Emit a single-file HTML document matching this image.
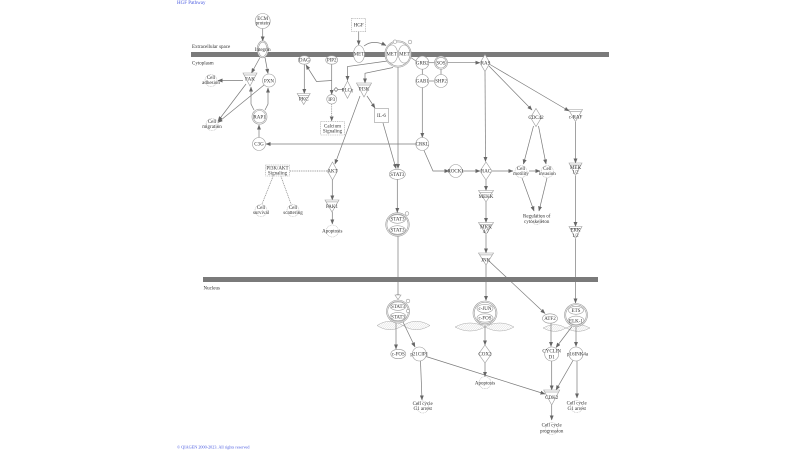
<!DOCTYPE html>
<html><head><meta charset="utf-8"><style>html,body{margin:0;padding:0;background:#fff;}svg{display:block}</style></head><body>
<svg width="800" height="450" viewBox="0 0 800 450" xmlns="http://www.w3.org/2000/svg" font-family="Liberation Serif, serif" font-size="5">
<defs>
<marker id="a" markerWidth="5" markerHeight="4" refX="4.6" refY="2" orient="auto" markerUnits="userSpaceOnUse"><path d="M0,0L5,2L0,4z" fill="#666"/></marker>
<pattern id="h" width="1.6" height="1.6" patternUnits="userSpaceOnUse" patternTransform="rotate(40)"><line x1="0" y1="0" x2="0" y2="1.6" stroke="#bbb" stroke-width="0.5"/></pattern>
</defs>
<rect width="800" height="450" fill="#fff"/>
<text x="177" y="4" fill="#4a5be0">HGF Pathway</text>
<text x="177" y="448.6" fill="#4a5be0" font-size="4.2">© QIAGEN 2000-2023. All rights reserved</text>

<!-- membranes -->
<rect x="191" y="52" width="418" height="5" fill="#7a7a7a"/>
<rect x="203" y="277" width="395" height="5" fill="#7a7a7a"/>
<g fill="#333">
<text x="192" y="48">Extracellular space</text>
<text x="192" y="64.5">Cytoplasm</text>
<text x="203.5" y="289.5">Nucleus</text>
</g>

<!-- DNA helices -->
<g stroke="#aaa" stroke-width="0.5" fill="url(#h)">
<path d="M377,325.5 Q390,317 403,325.5 Q390,334 377,325.5Z"/>
<path d="M403,325.5 Q416,317 430,325.5 Q416,334 403,325.5Z"/>
<path d="M455,327 Q470,319 485,327 Q470,335 455,327Z"/>
<path d="M485,327 Q500,319 514,327 Q500,335 485,327Z"/>
<path d="M543,328 Q555,321 566,328 Q555,335 543,328Z"/>
<path d="M566,328 Q578,321 590,328 Q578,335 566,328Z"/>
</g>

<!-- edges -->
<g stroke="#7a7a7a" stroke-width="0.7" fill="none" marker-end="url(#a)">
<path d="M262.7,28.5L262.7,41"/>
<path d="M358.7,31.7L358.7,45"/>
<path d="M364,46Q373,39 386,45.5"/>
<path d="M260,57.5L251.5,73"/>
<path d="M265,57.5L268,73.5"/>
<path d="M243,80.5L218,80.5"/>
<path d="M246,84L218,121"/>
<path d="M264,85L218,122.5"/>
<path d="M254,110L251,104L251,87"/>
<path d="M265,110L268,104L268,88"/>
<path d="M259,137.5L259,125"/>
<path d="M415.8,144L266,144"/>
<path d="M304.3,64L304.3,93.5"/>
<path d="M331.7,64L331.7,94.5"/>
<path d="M331.7,80.5L316.5,81.5L306,65"/>
<path d="M331.7,104L331.7,121" stroke-dasharray="1,0.8"/>
<path d="M367,96L375,108"/>
<path d="M360,96L335,164"/>
<path d="M383,123L396,168.5"/>
<path d="M398,67L398,168.5"/>
<path d="M387.5,61L347.5,66.5L347.5,80.5"/>
<path d="M393,67.5L365,73.3L365,83"/>
<path d="M332.3,180L332.3,200"/>
<path d="M332.3,212L332.3,224"/>
<path d="M397.3,179.5L397.3,212.5"/>
<path d="M398,236L398,299"/>
<path d="M447.5,62.7L480,62.7"/>
<path d="M422.3,87.5L422.3,137.5"/>
<path d="M485,71.5L485.5,161.5"/>
<path d="M489,66L532,110"/>
<path d="M490,64.5L569,111"/>
<path d="M424,150.5L433,171L449,171"/>
<path d="M462.2,171L480,171"/>
<path d="M492,171L513,171"/>
<path d="M529,171L540,171"/>
<path d="M533.5,126L523.5,164"/>
<path d="M538.5,126L546,164"/>
<path d="M522,178L534,211"/>
<path d="M547,178L539,211"/>
<path d="M486,180L486,190.5"/>
<path d="M486,202L486,222.5"/>
<path d="M486,235L486,253"/>
<path d="M486,265L486,300.5"/>
<path d="M489,261L545,313.5"/>
<path d="M575.5,122L575.5,163"/>
<path d="M575.5,176L575.5,226.5"/>
<path d="M575.5,239L575.5,303"/>
<path d="M396,322.5L396,349"/>
<path d="M403,322L415,347"/>
<path d="M420.5,361L422,400"/>
<path d="M426,356.5L545,394"/>
<path d="M485,325.5L485,345"/>
<path d="M485,363L485,376.5"/>
<path d="M551,323L551,346.5"/>
<path d="M572,326.5L556,347.5"/>
<path d="M576,327L576,346.5"/>
<path d="M551.7,361L551.7,390"/>
<path d="M573,360.5L556,390"/>
<path d="M577,361L577,398"/>
<path d="M551.7,405L551.7,420"/>
</g>
<g stroke="#7a7a7a" stroke-width="0.7" fill="none">
<path d="M410,57L416,61"/>
<path d="M428.8,62.7L434.5,62.7"/>
<path d="M422.3,69.2L422.3,74.5"/>
<path d="M428.8,81L434.5,81"/>
<path d="M441,69.2L441,74.5"/>
<path d="M343,89.5L334,89.5"/>
<path d="M327,171L289.5,171" stroke-dasharray="1,0.8"/>
<path d="M273,176.5L262,204" stroke-dasharray="1,0.8"/>
<path d="M281,176.5L291,204" stroke-dasharray="1,0.8"/>
<path d="M336,87.5L338,89.5L336,91.5L334,89.5Z" fill="#fff"/>
</g>

<!-- nodes -->
<g stroke="#9a9a9a" stroke-width="0.6" fill="#fff">
<!-- circles -->
<circle cx="262.7" cy="21" r="7.5"/>
<circle cx="422.3" cy="62.7" r="6.5"/>
<circle cx="441" cy="62.7" r="6.5"/><circle cx="441" cy="62.7" r="5.3"/>
<circle cx="422.3" cy="81" r="6.5"/>
<circle cx="441" cy="81" r="6.5"/>
<circle cx="422.3" cy="144" r="6.5"/>
<circle cx="259" cy="144" r="6.5"/>
<circle cx="269" cy="80.5" r="6.5"/>
<circle cx="259.5" cy="116.7" r="7.5"/><circle cx="259.5" cy="116.7" r="6.2"/>
<circle cx="455.7" cy="171" r="6.5"/>
<circle cx="551.7" cy="354" r="7"/>
<circle cx="576" cy="354" r="7"/>
<circle cx="419.3" cy="354" r="7"/>
<!-- ellipses -->
<ellipse cx="262.7" cy="49.3" rx="5.5" ry="8.5"/><ellipse cx="262.7" cy="49.3" rx="4.3" ry="7.2"/>
<ellipse cx="359" cy="54" rx="5.5" ry="8.5"/>
<ellipse cx="304.3" cy="60" rx="6" ry="4.2"/>
<ellipse cx="331.7" cy="60" rx="6" ry="4.2"/>
<ellipse cx="331.7" cy="99.3" rx="5" ry="4.7"/>
<ellipse cx="397.3" cy="174.3" rx="8" ry="5"/>
<ellipse cx="398.3" cy="354" rx="7.5" ry="4.7"/>
<ellipse cx="550" cy="318.5" rx="7.5" ry="4.7"/>
<!-- rects -->
<rect x="351.7" y="18.3" width="14" height="13.4" stroke-dasharray="1,0.8"/>
<rect x="374.5" y="108.5" width="14" height="14"/>
<rect x="320.7" y="121.7" width="23.6" height="13.3" stroke-dasharray="1,0.8"/>
<rect x="265.7" y="165" width="23.6" height="11" stroke-dasharray="1,0.8"/>
<!-- triangles -->
<path d="M243,73H257L250,86Z"/><path d="M244.2,75H255.8"/>
<path d="M297.2,93.5H310.2L303.7,104.5Z"/><path d="M298.2,95.3H309.2"/>
<path d="M356.5,83H371.5L364,97Z"/><path d="M357.6,85H370.4"/>
<path d="M568.5,109.5H582.5L575.5,121.5Z"/><path d="M569.6,111.3H581.4"/>
<path d="M569,163H582L575.5,175.5Z"/><path d="M570.1,165H580.9"/>
<path d="M569,226.5H582L575.5,238.5Z"/><path d="M570.1,228.5H580.9"/>
<path d="M478.5,190.5H493.5L486,202Z"/><path d="M479.7,192.4H492.3"/>
<path d="M478.5,222.5H493.5L486,234.5Z"/><path d="M479.7,224.4H492.3"/>
<path d="M478.5,253H493.5L486,265Z"/><path d="M479.7,254.9H492.3"/>
<path d="M325,200H339L332,212Z"/><path d="M326.2,201.9H337.8"/>
<path d="M543.7,390H559.7L551.7,405Z"/><path d="M545,392H558.4"/>
<!-- diamonds -->
<path d="M347.5,81L352,89.7L347.5,98.4L343,89.7Z"/>
<path d="M485,54.5L490,63L485,71.5L480,63Z"/>
<path d="M536,108.5L541.5,117.5L536,126.5L530.5,117.5Z"/>
<path d="M332.5,162L337.5,171L332.5,180L327.5,171Z"/>
<path d="M486,162L492,171L486,180L480,171Z"/>
<path d="M485,345L491.5,354L485,363L478.5,354Z"/>
<!-- complexes -->
<circle cx="398" cy="54" r="13.2"/><circle cx="398" cy="54" r="12"/>
<ellipse cx="391.8" cy="54" rx="5.8" ry="9"/><ellipse cx="404.2" cy="54" rx="5.8" ry="9"/>
<circle cx="395" cy="41.7" r="1.8"/><circle cx="410" cy="42" r="1.8"/>
<circle cx="397.5" cy="224.5" r="11.8"/><circle cx="397.5" cy="224.5" r="10.6"/>
<ellipse cx="397.5" cy="219" rx="8" ry="4.3"/><ellipse cx="397.5" cy="230" rx="8" ry="4.3"/>
<circle cx="407" cy="213.5" r="1.8"/>
<circle cx="398" cy="311.5" r="11.5"/><circle cx="398" cy="311.5" r="10.3"/>
<ellipse cx="398" cy="306.2" rx="8" ry="4.2"/><ellipse cx="398" cy="316.6" rx="8" ry="4.2"/>
<circle cx="408" cy="301" r="1.8"/><circle cx="408" cy="311" r="1.6"/>
<path d="M395,295H401L398,299.5Z"/>
<circle cx="485" cy="313" r="12"/><circle cx="485" cy="313" r="10.8"/>
<ellipse cx="485" cy="308.5" rx="8" ry="4.2"/><ellipse cx="485" cy="318" rx="8" ry="4.2"/>
<circle cx="576" cy="315" r="11.5"/><circle cx="576" cy="315" r="10.3"/>
<ellipse cx="576" cy="310.3" rx="7.5" ry="4"/><ellipse cx="576" cy="320.3" rx="8" ry="4.2"/>
</g>
<!-- clouds (functions) -->
<g stroke="#b0b0b0" stroke-width="0.55" fill="#fff" stroke-dasharray="0.9,0.7">
<circle cx="211" cy="80.5" r="6"/>
<circle cx="212" cy="124.5" r="6"/>
<circle cx="261" cy="210.5" r="6"/>
<circle cx="293" cy="210.5" r="6"/>
<circle cx="332.3" cy="231" r="6"/>
<circle cx="521" cy="171.5" r="6"/>
<circle cx="547.3" cy="171.5" r="6"/>
<circle cx="536.7" cy="219.5" r="5"/>
<circle cx="422.7" cy="407" r="6"/>
<circle cx="485" cy="382.7" r="6"/>
<circle cx="576.7" cy="406.5" r="6"/>
<circle cx="551.7" cy="428.5" r="6"/>
</g>

<!-- labels -->
<g fill="#333" text-anchor="middle">
<text x="262.7" y="19.8">ECM</text><text x="262.7" y="24.7">protein</text>
<text x="262.7" y="51">Integrin</text>
<text x="358.7" y="26.7">HGF</text>
<text x="359" y="55.7">MET</text>
<text x="391.6" y="55.7">MET</text><text x="404.4" y="55.7">MET</text>
<text x="211" y="79">Cell</text><text x="211" y="84">adhesion</text>
<text x="250" y="80.5">FAK</text>
<text x="269" y="82.3">PXN</text>
<text x="304.3" y="61.7">DAG</text>
<text x="331.7" y="61.7">PIP2</text>
<text x="347.5" y="91.3">PLCγ</text>
<text x="364" y="90.5">PI3K</text>
<text x="303.7" y="100.5">PKC</text>
<text x="331.7" y="101">IP3</text>
<text x="381.5" y="117">IL-6</text>
<text x="332.5" y="127.3">Calcium</text><text x="332.5" y="132.6">Signaling</text>
<text x="212" y="123">Cell</text><text x="212" y="128">migration</text>
<text x="259.5" y="118.5">RAP1</text>
<text x="259" y="145.7">C3G</text>
<text x="422.3" y="64.4">GRB2</text>
<text x="441" y="64.4">SOS</text>
<text x="422.3" y="82.7">GAB1</text>
<text x="441" y="82.7">SHP2</text>
<text x="485.5" y="64.7">RAS</text>
<text x="536" y="119.2">CDC42</text>
<text x="575.5" y="118.3">c-RAF</text>
<text x="422.3" y="145.7">CRKL</text>
<text x="277.5" y="169.5">PI3K/AKT</text><text x="277.5" y="174.5">Signaling</text>
<text x="332.5" y="172.7">AKT</text>
<text x="397.3" y="176">STAT3</text>
<text x="455.7" y="172.7">ROCK1</text>
<text x="486" y="172.7">RAC</text>
<text x="521" y="170">Cell</text><text x="521" y="175">motility</text>
<text x="547.3" y="170">Cell</text><text x="547.3" y="175">invasion</text>
<text x="575.5" y="169.2">MEK</text><text x="575.5" y="173.6">1/2</text>
<text x="261" y="209">Cell</text><text x="261" y="214">survival</text>
<text x="293" y="209">Cell</text><text x="293" y="214">scattering</text>
<text x="332" y="208">PAK1</text>
<text x="332.3" y="232.7">Apoptosis</text>
<text x="397.5" y="220.7">STAT3</text><text x="397.5" y="231.7">STAT3</text>
<text x="486" y="197.8">MEKK</text>
<text x="536.7" y="217.7">Regulation of</text><text x="536.7" y="223.2">cytoskeleton</text>
<text x="486" y="228.4">MKK</text><text x="486" y="233.2">4/7</text>
<text x="575.5" y="231.7">ERK</text><text x="575.5" y="236.8">1/2</text>
<text x="485.7" y="261.5">JNK</text>
<text x="398" y="308">STAT3</text><text x="398" y="318.3">STAT3</text>
<text x="485" y="310">c-JUN</text><text x="485" y="319.6">c-FOS</text>
<text x="550" y="320.2">ATF2</text>
<text x="576" y="311.8">ETS</text><text x="576" y="322.3">ELK-1</text>
<text x="398.3" y="355.7">c-FOS</text>
<text x="419.3" y="355.7">p21CIP1</text>
<text x="485" y="355.7">COX2</text>
<text x="551.7" y="352.7">CYCLIN</text><text x="551.7" y="358.3">D1</text>
<text x="577.5" y="355.7">p16INK4a</text>
<text x="422.7" y="405">Cell cycle</text><text x="422.7" y="410">G1 arrest</text>
<text x="485" y="384.4">Apoptosis</text>
<text x="551.7" y="399">CDK2</text>
<text x="576.7" y="404.4">Cell cycle</text><text x="576.7" y="409.8">G1 arrest</text>
<text x="551.7" y="426.7">Cell cycle</text><text x="551.7" y="432.3">progression</text>
</g>
</svg>
</body></html>
